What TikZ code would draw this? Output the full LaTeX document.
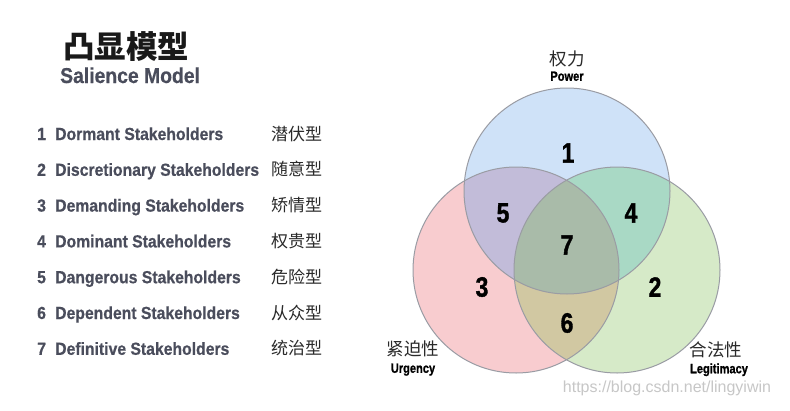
\documentclass[tikz,border=0pt]{standalone}
\usepackage{fontspec}
\usepackage{tikz}
\usetikzlibrary{positioning}
\newfontfamily\condfont[FakeStretch=0.9,FakeBold=0.6]{Liberation Sans}
\newfontfamily\numfont[FakeStretch=0.82,FakeBold=1.2]{Liberation Sans}
\newfontfamily\cjk{Noto Sans CJK SC}
\newfontfamily\urlfont{Liberation Sans}
\definecolor{powerblue}{HTML}{CFE2F8}
\definecolor{urgencyred}{HTML}{F8CCCF}
\definecolor{legitgreen}{HTML}{D6EAC8}
\definecolor{pwrurg}{HTML}{C2BCD9}
\definecolor{pwrleg}{HTML}{A9D9C5}
\definecolor{urgleg}{HTML}{D1C8A2}
\definecolor{allthree}{HTML}{A9BBA9}
\definecolor{rimgray}{HTML}{9A9CA4}
\definecolor{listgray}{HTML}{4A4D5C}
\definecolor{zhgray}{HTML}{2A2A2A}

\begin{document}
\begin{tikzpicture}[
  x=1pt, y=-1pt,
  node distance=4pt and 4pt,
  listnum/.style={anchor=base west,inner sep=0pt,text=listgray,font=\condfont\bfseries\fontsize{17.5}{20}\selectfont},
  listen/.style={anchor=base west,inner sep=0pt,text=listgray,font=\condfont\bfseries\fontsize{17.5}{20}\selectfont},
  listzh/.style={anchor=base west,inner sep=0pt,text=zhgray,font=\cjk\fontsize{17}{20}\selectfont},
  zhlabel/.style={inner sep=0pt,text=zhgray,font=\cjk\fontsize{17.5}{20}\selectfont},
  enlabel/.style={inner sep=0pt,text=black,font=\numfont\bfseries\fontsize{13.5}{15}\selectfont},
  vennnum/.style={inner sep=0pt,text=black,font=\numfont\bfseries\fontsize{28}{30}\selectfont},
  rim/.style={draw=rimgray,line width=1pt}
]
\useasboundingbox[fill=white] (0,0) rectangle (790,410);

% title
\node[anchor=base west,inner sep=0pt,font=\cjk\bfseries\fontsize{31.5}{34}\selectfont,text=black!90] (title) at (63,58) {凸显模型};
\node[anchor=base west,inner sep=0pt,text=listgray,font=\condfont\bfseries\fontsize{21.5}{26}\selectfont] (subtitle) at (60,83) {Salience Model};

% list of stakeholder types
\foreach \en/\zh [count=\i] in {Dormant/潜伏型,Discretionary/随意型,Demanding/矫情型,Dominant/权贵型,Dangerous/危险型,Dependent/从众型,Definitive/统治型}{
  \node[listnum] (num\i) at (37,{140+35.8*(\i-1)}) {\i};
  \node[listen] (en\i) at (55,{140+35.8*(\i-1)}) {\en\ Stakeholders};
  \node[listzh] (zh\i) at (271,{140+35.8*(\i-1)}) {\zh};
}

% circles
\coordinate (P) at (567,191);
\coordinate (U) at (516,270);
\coordinate (L) at (617,270);
\fill[powerblue] (P) circle[radius=103pt];
\fill[urgencyred] (U) circle[radius=103pt];
\fill[legitgreen] (L) circle[radius=103pt];
\begin{scope}
  \clip (P) circle[radius=103pt];
  \fill[pwrurg] (U) circle[radius=103pt];
  \fill[pwrleg] (L) circle[radius=103pt];
\end{scope}
\begin{scope}
  \clip (U) circle[radius=103pt];
  \fill[urgleg] (L) circle[radius=103pt];
  \clip (P) circle[radius=103pt];
  \fill[allthree] (L) circle[radius=103pt];
\end{scope}
\draw[rim] (P) circle[radius=103pt];
\draw[rim] (U) circle[radius=103pt];
\draw[rim] (L) circle[radius=103pt];

% region numbers
\node[vennnum] (r1) at (568,153) {1};
\node[vennnum] (r2) at (655,287) {2};
\node[vennnum] (r3) at (482,287) {3};
\node[vennnum] (r4) at (631,213) {4};
\node[vennnum] (r5) at (503,213) {5};
\node[vennnum] (r6) at (567,323) {6};
\node[vennnum] (r7) at (567,245) {7};

% circle labels
\node[zhlabel] (power-zh) at (567,59) {权力};
\node[enlabel,below=4pt of power-zh] (power-en) {Power};
\node[zhlabel] (urgency-zh) at (413,349) {紧迫性};
\node[enlabel,below=6pt of urgency-zh] (urgency-en) {Urgency};
\node[zhlabel] (legit-zh) at (716,350) {合法性};
\node[enlabel,below=5pt of legit-zh,xshift=3pt] (legit-en) {Legitimacy};

% watermark
\node[inner sep=0pt,text=black!22,font=\urlfont\fontsize{16}{18}\selectfont] (mark) at (667,388) {https://blog.csdn.net/lingyiwin};

\end{tikzpicture}
\end{document}
